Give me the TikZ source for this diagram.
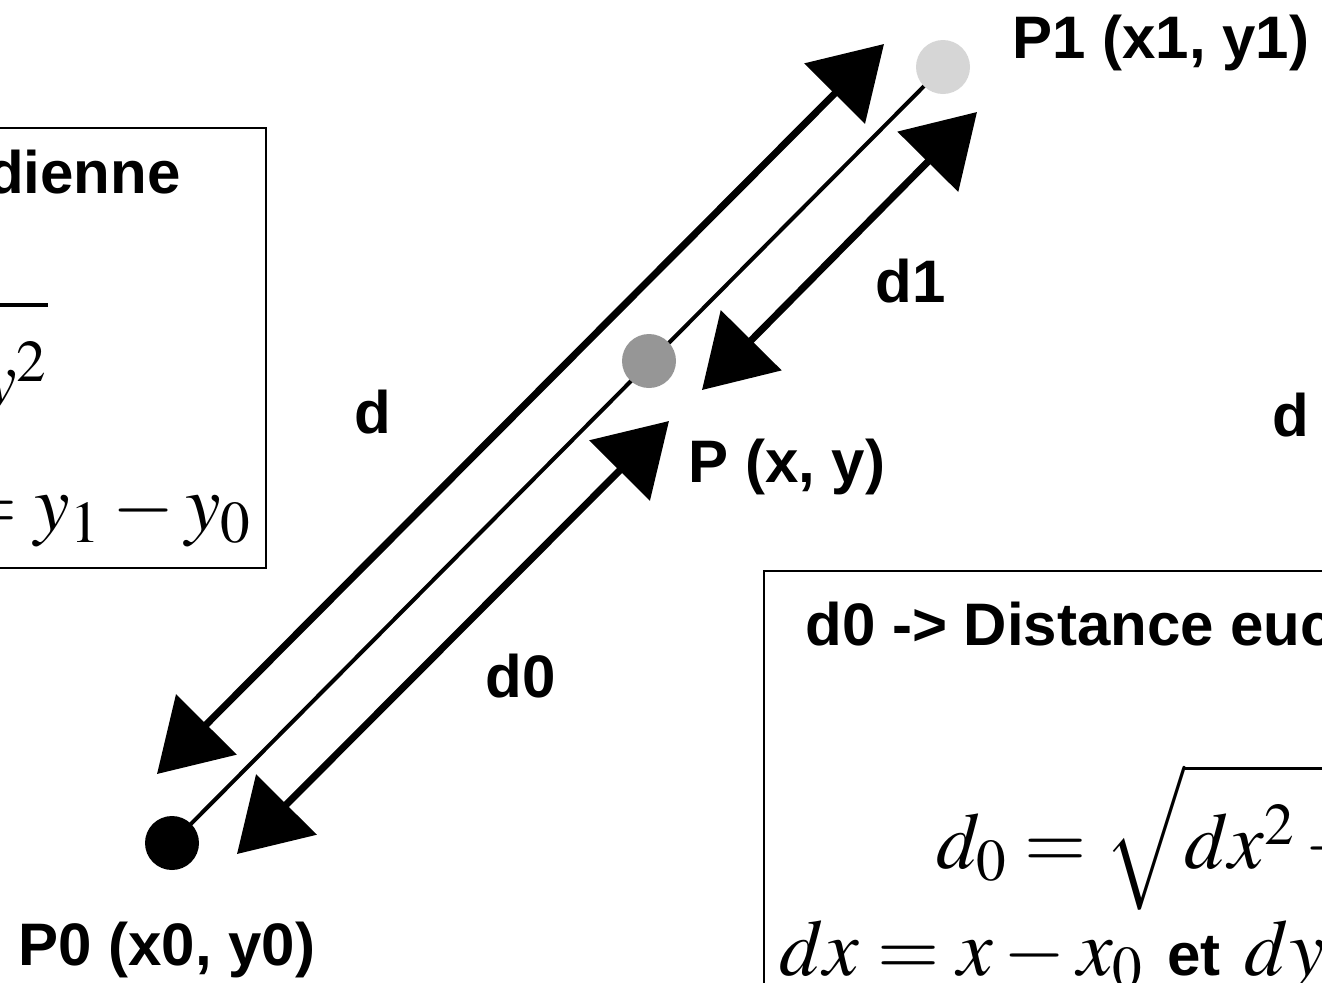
\documentclass[tikz,border=0pt]{standalone}
\usepackage{amsmath,amssymb}
\usepackage{mathptmx}
\usepackage[no-math]{fontspec}
\setsansfont{Liberation Sans}
\usepackage{tikz}
\usetikzlibrary{arrows.meta,positioning,backgrounds}
\definecolor{pmid}{RGB}{150,150,150}
\definecolor{plight}{RGB}{214,214,214}

\begin{document}
\begin{tikzpicture}[x=0.5pt,y=-0.5pt,
	lbl/.style={font=\sffamily\bfseries\fontsize{30}{36}\selectfont,inner sep=0pt},
	ttl/.style={font=\sffamily\bfseries\fontsize{30}{36}\selectfont,inner sep=0pt},
	eq/.style={font=\fontsize{40}{48}\selectfont,inner sep=0pt},
	dot/.style={circle,minimum size=27pt,inner sep=0pt},
	dist/.style={{Triangle[length=35pt,width=42pt]}-{Triangle[length=35pt,width=42pt]},line width=3.5pt},
	box/.style={line width=1.2pt}]
						\useasboundingbox (0,0) rectangle (1322,982);
						\clip (0,0) rectangle (1322,982);
						\draw[box] (-500,128) rectangle (266,568);
						\draw[box] (764,571) rectangle (1800,1300);
						\node[ttl,anchor=base east] (titleD) at (181,193) {d -> Distance euclidienne};
						\node[eq,anchor=base east] (eqD) at (48,405) {$d = \sqrt{\rule[-20pt]{0pt}{66pt}dx^2 + dy^2}$};
						\node[eq,anchor=base east] (dxD) at (252,530) {$dx = x_1 - x_0$ {\sffamily\bfseries\fontsize{30}{36}\selectfont et} $dy = y_1 - y_0$};
						\node[ttl,anchor=base west] (titleDz) at (805,645) {d0 -> Distance euclidienne};
						\node[eq,anchor=base west] (eqDz) at (936,868) {$d_0 = \sqrt{\rule[-20pt]{0pt}{66pt}dx^2 + dy^2}$};
						\node[eq,anchor=base west] (dxDz) at (779,975) {$dx = x - x_0$ {\sffamily\bfseries\fontsize{30}{36}\selectfont et} $dy = y - y_0$};
						\node[dot,fill=black] (P0) at (172,843) {};
						\node[dot,fill=pmid] (P) at (649,361) {};
						\node[dot,fill=plight] (P1) at (943,67) {};
						\begin{scope}[on background layer]
							\draw[line width=2pt] (P0.center) -- (P1.center);
						\end{scope}
						\coordinate (dLow) at (157,774);
						\coordinate (dUp) at (884,44);
						\coordinate (dzLow) at (237,854);
						\coordinate (dzUp) at (669,421);
						\coordinate (doLow) at (702,390);
						\coordinate (doUp) at (977,112);
						\draw[dist] (dLow) -- (dUp);
						\draw[dist] (dzLow) -- (dzUp);
						\draw[dist] (doLow) -- (doUp);
						\node[lbl,anchor=base west] (lblP1) at (1012,58) {P1 (x1, y1)};
						\node[lbl,anchor=base west] (lblP) at (688,482) {P (x, y)};
						\node[lbl,anchor=base west] (lblP0) at (18,965) {P0 (x0, y0)};
						\node[lbl,anchor=base west] (lblD) at (354,433) {d};
						\node[lbl,anchor=base west] (lblDo) at (875,302) {d1};
						\node[lbl,anchor=base west] (lblDz) at (485,697) {d0};
						\node[lbl,anchor=base west] (lblDr) at (1272,436) {d};
					\end{tikzpicture}
\end{document}
